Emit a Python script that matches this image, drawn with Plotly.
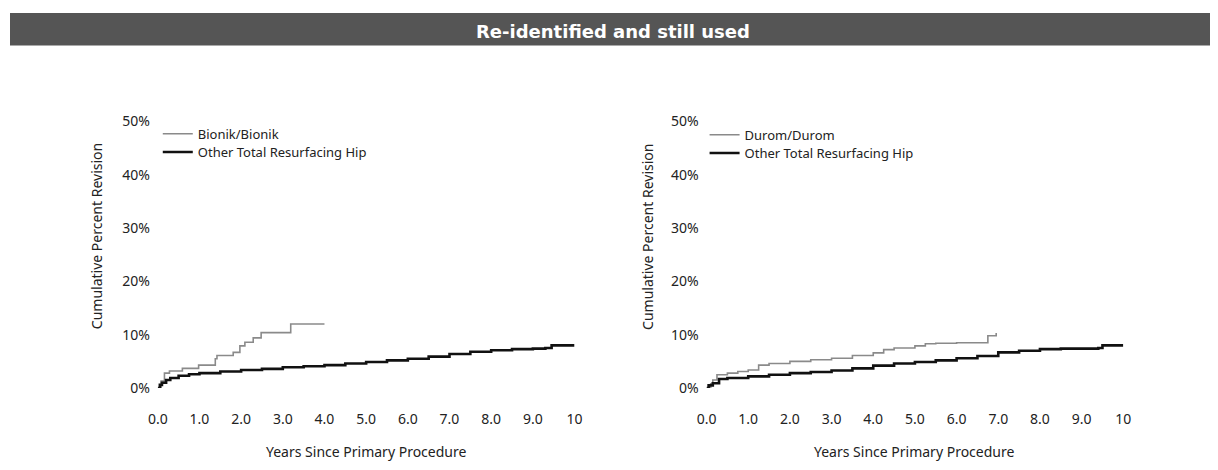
import plotly.graph_objects as go

# ---- data ----
bionik_t = [0, 0.08, 0.16, 0.28, 0.59, 0.98, 1.38, 1.42, 1.81, 1.97, 2.09, 2.29, 2.48, 3.19, 4.0]
bionik_v = [0, 1.3, 2.8, 3.2, 3.7, 4.3, 5.5, 6.1, 6.7, 7.9, 8.6, 9.4, 10.4, 12.0, 12.0]

other_left_t = [0, 0.05, 0.1, 0.2, 0.3, 0.5, 0.75, 1.0, 1.5, 2.0, 2.5, 3.0, 3.5, 4.0, 4.5,
                5.0, 5.5, 6.0, 6.5, 7.0, 7.5, 8.0, 8.5, 9.0, 9.3, 9.45, 10.0]
other_left_v = [0, 0.6, 1.0, 1.5, 1.9, 2.3, 2.6, 2.8, 3.1, 3.4, 3.6, 3.9, 4.1, 4.3, 4.6,
                4.9, 5.2, 5.5, 5.9, 6.4, 6.8, 7.1, 7.3, 7.4, 7.5, 8.0, 8.0]

durom_t = [0, 0.1, 0.15, 0.25, 0.5, 0.75, 1.0, 1.25, 1.5, 2.0, 2.5, 3.0, 3.5, 4.0, 4.25,
           4.5, 5.0, 5.25, 5.5, 6.0, 6.5, 6.75, 6.95]
durom_v = [0, 0.8, 1.5, 2.5, 2.8, 3.1, 3.4, 4.3, 4.6, 5.0, 5.3, 5.6, 6.1, 6.6, 7.2,
           7.5, 7.9, 8.3, 8.4, 8.5, 8.5, 9.8, 10.3]

other_right_t = [0, 0.05, 0.15, 0.3, 0.5, 1.0, 1.5, 2.0, 2.5, 3.0, 3.5, 4.0, 4.5, 5.0, 5.5,
                 6.0, 6.5, 7.0, 7.5, 8.0, 8.5, 9.0, 9.4, 9.5, 10.0]
other_right_v = [0, 0.5, 0.9, 1.7, 1.9, 2.2, 2.5, 2.8, 3.0, 3.3, 3.7, 4.2, 4.6, 4.9, 5.2,
                 5.6, 6.0, 6.7, 7.0, 7.3, 7.4, 7.4, 7.5, 8.0, 8.0]

x_tick_vals = [0, 1, 2, 3, 4, 5, 6, 7, 8, 9, 10]
x_tick_text = ["0.0", "1.0", "2.0", "3.0", "4.0", "5.0", "6.0", "7.0", "8.0", "9.0", "10"]
y_tick_vals = [0, 10, 20, 30, 40, 50]
y_tick_text = ["0%", "10%", "20%", "30%", "40%", "50%"]

title_text = "Re-identified and still used"
x_title = "Years Since Primary Procedure"
y_title = "Cumulative Percent Revision"

# ---- layout geometry ----
W, H = 1218, 470
def px(x): return x / W
def py(y): return (H - y) / H

FONT = "Noto Sans"
FS = 14
TXT = "#222222"
GREY = "#8a8a8a"

fig = go.Figure()

fig.add_trace(go.Scatter(x=bionik_t, y=bionik_v, mode="lines", line=dict(color=GREY, width=1.6, shape="hv"),
                         name="Bionik/Bionik", xaxis="x", yaxis="y", legend="legend"))
fig.add_trace(go.Scatter(x=other_left_t, y=other_left_v, mode="lines", line=dict(color="#111111", width=2.6, shape="hv"),
                         name="Other Total Resurfacing Hip", xaxis="x", yaxis="y", legend="legend2"))
fig.add_trace(go.Scatter(x=durom_t, y=durom_v, mode="lines", line=dict(color=GREY, width=1.6, shape="hv"),
                         name="Durom/Durom", xaxis="x2", yaxis="y2", legend="legend3"))
fig.add_trace(go.Scatter(x=other_right_t, y=other_right_v, mode="lines", line=dict(color="#111111", width=2.6, shape="hv"),
                         name="Other Total Resurfacing Hip", xaxis="x2", yaxis="y2", legend="legend4"))

xax = dict(range=[0, 10], tickvals=x_tick_vals, ticktext=x_tick_text, showgrid=False, zeroline=False,
           showline=False, ticks="outside", ticklen=18, tickcolor="rgba(0,0,0,0)",
           tickfont=dict(family=FONT, size=FS, color=TXT), fixedrange=True)
yax = dict(range=[0, 50], tickvals=y_tick_vals, ticktext=y_tick_text, showgrid=False, zeroline=False,
           showline=False, ticks="outside", ticklen=4, tickcolor="rgba(0,0,0,0)",
           tickfont=dict(family=FONT, size=FS, color=TXT), fixedrange=True)

ydom = [py(394), py(116)]
legfont = dict(family=FONT, size=13, color=TXT)

def leg(x, y):
    return dict(x=px(x), y=py(y), xanchor="left", yanchor="middle", bgcolor="rgba(0,0,0,0)",
                font=legfont, itemwidth=30, borderwidth=0)

fig.update_layout(
    width=W, height=H,
    margin=dict(l=0, r=0, t=0, b=0),
    paper_bgcolor="white", plot_bgcolor="white",
    xaxis=dict(xax, domain=[px(150), px(573)], anchor="y"),
    yaxis=dict(yax, domain=ydom, anchor="x"),
    xaxis2=dict(xax, domain=[px(707), px(1130)], anchor="y2"),
    yaxis2=dict(yax, domain=ydom, anchor="x2"),
    legend=leg(150, 129),
    legend2=leg(150, 148),
    legend3=leg(705, 130),
    legend4=leg(705, 149),
    showlegend=True,
    shapes=[dict(type="rect", xref="paper", yref="paper", x0=0, x1=1, y0=py(37), y1=py(3),
                 fillcolor="#555555", line=dict(width=0), layer="below")],
    annotations=[
        dict(text="<b>" + title_text + "</b>", xref="paper", yref="paper", x=px(612), y=py(22),
             showarrow=False, font=dict(family="DejaVu Sans", size=18, color="white"),
             xanchor="center", yanchor="middle"),
        dict(text=x_title, xref="paper", yref="paper", x=px(361), y=py(460), showarrow=False,
             font=dict(family=FONT, size=FS, color=TXT), xanchor="center", yanchor="middle"),
        dict(text=x_title, xref="paper", yref="paper", x=px(918), y=py(460), showarrow=False,
             font=dict(family=FONT, size=FS, color=TXT), xanchor="center", yanchor="middle"),
        dict(text=y_title, xref="paper", yref="paper", x=px(88), y=py(236), showarrow=False, textangle=-90,
             font=dict(family=FONT, size=FS, color=TXT), xanchor="center", yanchor="middle"),
        dict(text=y_title, xref="paper", yref="paper", x=px(647), y=py(236), showarrow=False, textangle=-90,
             font=dict(family=FONT, size=FS, color=TXT), xanchor="center", yanchor="middle"),
    ],
)

fig.write_html("out.html", config={"displayModeBar": False},
               post_script="document.body.style.margin='0';")
